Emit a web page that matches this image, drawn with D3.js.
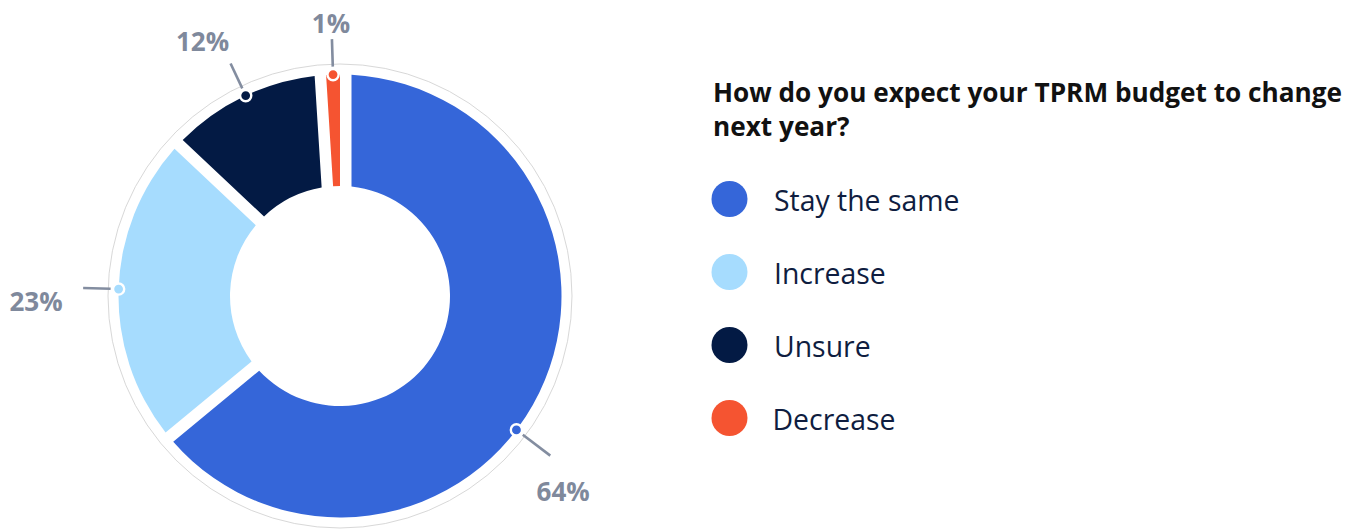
<!DOCTYPE html>
<html>
<head>
<meta charset="utf-8">
<script src="https://cdn.jsdelivr.net/npm/d3@7/dist/d3.min.js"></script>
<style>
  html, body { margin: 0; padding: 0; background: #ffffff; }
  svg { display: block; font-family: "Open Sans", "Noto Sans", sans-serif; }
</style>
</head>
<body>
<svg id="chart" width="1362" height="529"></svg>
<script>
// Survey answers, in drawing order (clockwise from 12 o'clock)
const categories = ["Stay the same", "Increase", "Unsure", "Decrease"];
const shares = [64, 23, 12, 1];
const valueLabels = ["64%", "23%", "12%", "1%"];
const colors = ["#3566d9", "#a6dcfe", "#031a44", "#f55431"];
const titleLines = ["How do you expect your TPRM budget to change", "next year?"];

// Layout
const W = 1362, H = 529;
const cx = 340, cy = 296;
const outerR = 221.5, innerR = 110, ringR = 232;
const halfGap = 6, wideGap = 11.5;
const toRad = Math.PI / 180;
// per-label tweaks: extra rotation of the callout dot, and label centre (angle°, radius)
const calloutShift = [12, 0, 0, 0];
const labelPolar = [[131.3, 297], [268.9, 304], [331.6, 289], [358.1, 273]];

const svg = d3.select("#chart");
const g = svg.append("g").attr("transform", `translate(${cx},${cy})`);

const pie = d3.pie().sort(null).value(d => d);
const arcs = pie(shares);
const isTiny = i => shares[i] < 2;

// slice outline with parallel-edged insets at the start and end edges
function slicePath(a0, a1, ins0, ins1) {
  const p = d3.path();
  const o0 = a0 + Math.asin(ins0 / outerR), o1 = a1 - Math.asin(ins1 / outerR);
  const i0 = a0 + Math.asin(ins0 / innerR), i1 = a1 - Math.asin(ins1 / innerR);
  const h = Math.PI / 2;
  p.moveTo(outerR * Math.sin(o0), -outerR * Math.cos(o0));
  p.arc(0, 0, outerR, o0 - h, o1 - h, false);
  p.lineTo(innerR * Math.sin(i1), -innerR * Math.cos(i1));
  p.arc(0, 0, innerR, i1 - h, i0 - h, true);
  p.closePath();
  return p.toString();
}

// faint guide ring around the donut
g.append("circle")
  .attr("r", ringR)
  .attr("fill", "none")
  .attr("stroke", "#d8d8d8")
  .attr("stroke-width", 1);

const n = shares.length;
g.selectAll("path.slice")
  .data(arcs)
  .join("path")
  .attr("class", "slice")
  .attr("fill", (d, i) => colors[i])
  .attr("d", (d, i) => {
    if (isTiny(i)) return slicePath(d.startAngle, d.endAngle, 0, 0);
    const prev = (i - 1 + n) % n, next = (i + 1) % n;
    const ins0 = isTiny(prev) ? wideGap : halfGap;
    const ins1 = isTiny(next) ? wideGap : halfGap;
    return slicePath(d.startAngle, d.endAngle, ins0, ins1);
  });

// callouts: leader line, dot on the rim, and value label
const polar = (a, r) => [r * Math.sin(a), -r * Math.cos(a)];
const callouts = g.selectAll("g.callout")
  .data(arcs)
  .join("g")
  .attr("class", "callout");

callouts.append("line")
  .each(function (d, i) {
    const a = (d.startAngle + d.endAngle) / 2 + calloutShift[i] * toRad;
    const [x1, y1] = polar(a, outerR + 8);
    const [x2, y2] = polar(a, i === 0 ? 264 : 257);
    d3.select(this)
      .attr("x1", x1).attr("y1", y1)
      .attr("x2", x2).attr("y2", y2);
  })
  .attr("stroke", "#838da0")
  .attr("stroke-width", 2.6);

callouts.append("circle")
  .attr("cx", (d, i) => polar((d.startAngle + d.endAngle) / 2 + calloutShift[i] * toRad, outerR)[0])
  .attr("cy", (d, i) => polar((d.startAngle + d.endAngle) / 2 + calloutShift[i] * toRad, outerR)[1])
  .attr("r", 5.6)
  .attr("fill", (d, i) => colors[i])
  .attr("stroke", "#ffffff")
  .attr("stroke-width", 2.4);

callouts.append("text")
  .attr("x", (d, i) => polar(labelPolar[i][0] * toRad, labelPolar[i][1])[0])
  .attr("y", (d, i) => polar(labelPolar[i][0] * toRad, labelPolar[i][1])[1])
  .attr("dy", "0.36em")
  .attr("text-anchor", "middle")
  .attr("font-size", 26)
  .attr("font-weight", 700)
  .attr("fill", "#7f899c")
  .text((d, i) => valueLabels[i]);

// legend
const legend = svg.append("g").attr("transform", "translate(713,0)");
legend.selectAll("text.title")
  .data(titleLines)
  .join("text")
  .attr("class", "title")
  .attr("x", 0)
  .attr("y", (d, i) => 102 + i * 34)
  .attr("font-size", 26.2)
  .attr("font-weight", 700)
  .attr("fill", "#111111")
  .text(d => d);

const rowY = d3.scalePoint().domain(categories).range([199, 418]);
const items = legend.selectAll("g.item")
  .data(categories)
  .join("g")
  .attr("class", "item")
  .attr("transform", d => `translate(0,${rowY(d)})`);

items.append("circle")
  .attr("cx", 16.5)
  .attr("cy", 0)
  .attr("r", 18)
  .attr("fill", (d, i) => colors[i]);

items.append("text")
  .attr("x", (d, i) => i === 3 ? 59.5 : 61)
  .attr("dy", "0.42em")
  .attr("font-size", 28.4)
  .attr("fill", "#0f1d40")
  .text(d => d);
</script>
</body>
</html>
